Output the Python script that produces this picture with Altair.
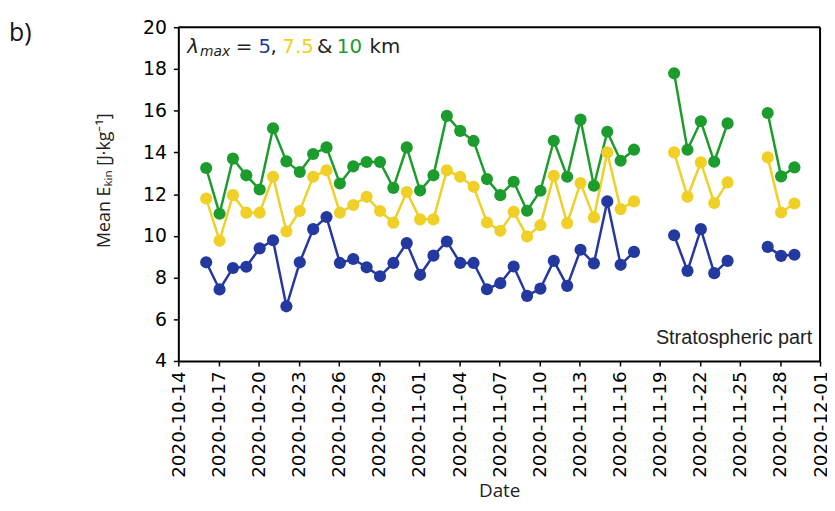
import altair as alt
import pandas as pd

dates = [
    "2020-10-16", "2020-10-17", "2020-10-18", "2020-10-19", "2020-10-20", "2020-10-21",
    "2020-10-22", "2020-10-23", "2020-10-24", "2020-10-25", "2020-10-26", "2020-10-27",
    "2020-10-28", "2020-10-29", "2020-10-30", "2020-10-31", "2020-11-01", "2020-11-02",
    "2020-11-03", "2020-11-04", "2020-11-05", "2020-11-06", "2020-11-07", "2020-11-08",
    "2020-11-09", "2020-11-10", "2020-11-11", "2020-11-12", "2020-11-13", "2020-11-14",
    "2020-11-15", "2020-11-16", "2020-11-17",
    "2020-11-20", "2020-11-21", "2020-11-22", "2020-11-23", "2020-11-24",
    "2020-11-27", "2020-11-28", "2020-11-29",
]

ekin_5km = [
    8.73, 7.43, 8.46, 8.52, 9.40, 9.79, 6.62, 8.73, 10.32, 10.90, 8.70, 8.89,
    8.49, 8.06, 8.70, 9.65, 8.13, 9.05, 9.73, 8.70, 8.70, 7.44, 7.73, 8.53,
    7.12, 7.47, 8.80, 7.60, 9.33, 8.68, 11.65, 8.61, 9.23,
    10.03, 8.32, 10.32, 8.21, 8.80,
    9.47, 9.04, 9.09,
]
ekin_7_5km = [
    11.79, 9.76, 11.95, 11.11, 11.11, 12.83, 10.21, 11.19, 12.83, 13.14, 11.11, 11.48,
    11.87, 11.19, 10.63, 12.10, 10.79, 10.79, 13.14, 12.83, 12.35, 10.64, 10.24, 11.15,
    9.97, 10.51, 12.88, 10.61, 12.53, 10.88, 14.00, 11.28, 11.65,
    14.00, 11.87, 13.52, 11.57, 12.56,
    13.76, 11.12, 11.55,
]
ekin_10km = [
    13.25, 11.06, 13.70, 12.90, 12.22, 15.16, 13.57, 13.06, 13.92, 14.24, 12.51, 13.33,
    13.54, 13.54, 12.30, 14.24, 12.17, 12.90, 15.75, 15.03, 14.55, 12.72, 11.95, 12.59,
    11.20, 12.16, 14.56, 12.83, 15.57, 12.40, 14.99, 13.60, 14.13,
    17.79, 14.13, 15.49, 13.55, 15.39,
    15.89, 12.85, 13.28,
]

series_names = ["5 km", "7.5 km", "10 km"]
series_colors = ["#23399f", "#f0cf26", "#1c9c2c"]

y_ticks = [4, 6, 8, 10, 12, 14, 16, 18, 20]
x_ticks = [
    "2020-10-14", "2020-10-17", "2020-10-20", "2020-10-23", "2020-10-26", "2020-10-29",
    "2020-11-01", "2020-11-04", "2020-11-07", "2020-11-10", "2020-11-13", "2020-11-16",
    "2020-11-19", "2020-11-22", "2020-11-25", "2020-11-28", "2020-12-01",
]

# segments: break the line where there is a gap of more than one day
dt = pd.to_datetime(dates)
segment = (dt.to_series().diff().dt.days.fillna(1) > 1).cumsum().tolist()

rows = []
for name, vals in zip(series_names, [ekin_5km, ekin_7_5km, ekin_10km]):
    for d, v, s in zip(dates, vals, segment):
        rows.append({"date": d + "T02:00:00Z", "value": v, "series": name, "seg": f"{name}-{s}"})
df = pd.DataFrame(rows)

W, H = 648, 337

x_enc = alt.X(
    "date:T",
    scale=alt.Scale(type="utc", domain=["2020-10-14T00:00:00Z", "2020-12-01T00:00:00Z"]),
    axis=alt.Axis(
        values=[t + "T00:00:00Z" for t in x_ticks],
        labelExpr="utcFormat(datum.value, '%Y-%m-%d')",
        labelAngle=270, labelAlign="right", labelBaseline="middle",
        labelFont="DejaVu Sans", labelFontSize=18.5, labelColor="black",
        labelPadding=5, tickSize=5, tickWidth=1.5, tickColor="black",
        domain=True, domainColor="black", domainWidth=2,
        grid=False, title="Date", titleFont="Open Sans", titleFontSize=19,
        titleFontWeight="normal", titleColor="#222",
        titleBaseline="alphabetic", titleY=137,
    ),
)
y_enc = alt.Y(
    "value:Q",
    scale=alt.Scale(domain=[4, 20], nice=False, zero=False),
    axis=alt.Axis(
        values=y_ticks, labelFont="DejaVu Sans", labelFontSize=19, labelColor="black",
        labelPadding=7, tickSize=5, tickWidth=1.5, tickColor="black",
        domain=True, domainColor="black", domainWidth=2,
        grid=False, title=None,
    ),
)
color_enc = alt.Color(
    "series:N", scale=alt.Scale(domain=series_names, range=series_colors), legend=None
)

base = alt.Chart(df).encode(x=x_enc, y=y_enc, color=color_enc)
lines = base.mark_line(strokeWidth=2.5).encode(detail="seg:N")
points = base.mark_circle(size=150, opacity=1)

one = pd.DataFrame({"k": [0]})
top_edge = alt.Chart(one).mark_rule(color="black", strokeWidth=2).encode(
    x=alt.value(0), x2=alt.value(W), y=alt.value(0))
right_edge = alt.Chart(one).mark_rule(color="black", strokeWidth=2).encode(
    x=alt.value(W), y=alt.value(0), y2=alt.value(H))

def txt(text, x, y, color="#222", size=20, font="DejaVu Sans", style="normal",
        align="left", baseline="alphabetic", angle=0):
    return alt.Chart(pd.DataFrame({"t": [text]})).mark_text(
        font=font, fontSize=size, fontStyle=style, color=color, align=align,
        baseline=baseline, angle=angle,
    ).encode(text="t:N", x=alt.value(x), y=alt.value(y))

annots = [
    txt("λ", 9, 26, style="italic", size=20),
    txt("max", 22, 29, style="italic", size=14),
    txt("=", 58, 26),
    txt("5", 81, 26, color=series_colors[0]),
    txt(",", 93, 26),
    txt("7.5", 105, 26, color=series_colors[1]),
    txt("&", 140, 26),
    txt("10", 160, 26, color=series_colors[2]),
    txt("km", 193, 26),
    txt("Stratospheric part", W - 8, 320, font="Liberation Sans", size=20, align="right"),
    txt("Mean Eₖᵢₙ [J·kg⁻¹]", -74, 155, font="Open Sans", size=18, align="center",
        baseline="middle", angle=270),
    txt("b)", -171, 14, font="Open Sans", size=25, color="#111"),
]

chart = alt.layer(lines, points, top_edge, right_edge, *annots).properties(
    width=W, height=H,
    autosize=alt.AutoSizeParams(type="none"),
    padding={"left": 172, "top": 17, "right": 7, "bottom": 142},
    background="white",
).configure_view(stroke=None)

chart.save("out.html", embed_options={"renderer": "svg", "actions": False})
